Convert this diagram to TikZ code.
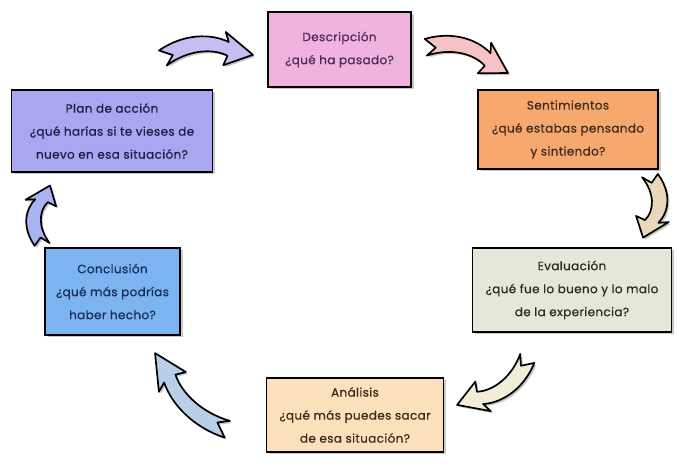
\documentclass[tikz,border=0pt]{standalone}
\usepackage{fontspec}
\setmainfont{Poppins}[LetterSpace=3.0,FakeBold=0.6]
\usetikzlibrary{shadows}
\definecolor{cdesc}{HTML}{F0B3DF}
\definecolor{csent}{HTML}{F7A86E}
\definecolor{ceval}{HTML}{E4E8D8}
\definecolor{canal}{HTML}{FCE0BC}
\definecolor{cconc}{HTML}{7CB4F2}
\definecolor{cplan}{HTML}{A9A6F2}
\definecolor{aone}{HTML}{C6BDF2}
\definecolor{atwo}{HTML}{F6C2C4}
\definecolor{athree}{HTML}{EBD6BE}
\definecolor{afour}{HTML}{F2EDD8}
\definecolor{afive}{HTML}{B9CFE8}
\definecolor{asix}{HTML}{A8B4F2}
\definecolor{tdesc}{HTML}{4B2D55}
\definecolor{tsent}{HTML}{3B2B20}
\definecolor{tplan}{HTML}{1E1E40}
\definecolor{tconc}{HTML}{1B2D55}
\definecolor{teval}{HTML}{2A2A22}
\definecolor{tanal}{HTML}{3A2A18}
\tikzset{
  pics/carr/.style={code={
    \filldraw[fill=#1,draw=black,line width=1.7pt,line join=round]
      (-3,9) .. controls (25,28) and (55,27) .. (74,16) -- (71,28) -- (100,0)
      -- (67,-11) -- (72,0) .. controls (55,10) and (28,8) .. (5,-9) -- (12,3) -- cycle;
  }},
  pics/carrsh/.style={code={
    \fill[black!22]
      (-3,9) .. controls (25,28) and (55,27) .. (74,16) -- (71,28) -- (100,0)
      -- (67,-11) -- (72,0) .. controls (55,10) and (28,8) .. (5,-9) -- (12,3) -- cycle;
  }},
  box/.style={draw=black, line width=1.8pt, align=center, inner sep=0pt,
    font=\fontsize{12}{23}\selectfont,
    drop shadow={shadow xshift=2.5pt,shadow yshift=-2.5pt,fill=black!30,opacity=0.7}},
}
% #1 name, #2 x, #3 y, #4 angle, #5 xscale, #6 yscale, #7 colour
\newcommand\cycarrow[7]{%
  \pic at (#2+2,#3-2) [rotate=#4,xscale=#5,yscale=#6] {carrsh};
  \pic (#1) at (#2,#3) [rotate=#4,xscale=#5,yscale=#6] {carr=#7};
}
\begin{document}
\begin{tikzpicture}[x=1pt,y=1pt]
\useasboundingbox[fill=white] (0,0) rectangle (678,465);

\node[box, fill=cdesc, text=tdesc, minimum width=143pt, minimum height=75pt] (desc) at (339.5,415.5)
  {Descripción\\¿qué ha pasado?};
\node[box, fill=csent, text=tsent, minimum width=180pt, minimum height=79pt] (sent) at (568,335.5)
  {Sentimientos\\¿qué estabas pensando\\y sintiendo?};
\node[box, fill=ceval, text=teval, minimum width=199pt, minimum height=84pt] (eval) at (572,175)
  {Evaluación\\¿qué fue lo bueno y lo malo\\de la experiencia?};
\node[box, fill=canal, text=tanal, minimum width=177pt, minimum height=74pt] (anal) at (355,50)
  {Análisis\\¿qué más puedes sacar\\de esa situación?};
\node[box, fill=cconc, text=tconc, minimum width=135pt, minimum height=87pt] (conc) at (112.5,173.5)
  {Conclusión\\¿qué más podrías\\haber hecho?};
\node[box, fill=cplan, text=tplan, minimum width=201pt, minimum height=82pt] (plan) at (112,334)
  {Plan de acción\\¿qué harías si te vieses de\\nuevo en esa situación?};

\cycarrow{a1}{162}{407}{2}{0.91}{0.85}{aone}
\cycarrow{a2}{425}{418}{-17.4}{0.87}{0.85}{atwo}
\cycarrow{a3}{650}{290}{-96.3}{0.63}{0.85}{athree}
\cycarrow{a4}{528}{107}{-146.5}{0.85}{0.85}{afour}
\cycarrow{a5}{228}{35}{133.5}{1.06}{0.85}{afive}
\cycarrow{a6}{42}{220}{82.3}{0.60}{0.8}{asix}
\end{tikzpicture}
\end{document}
